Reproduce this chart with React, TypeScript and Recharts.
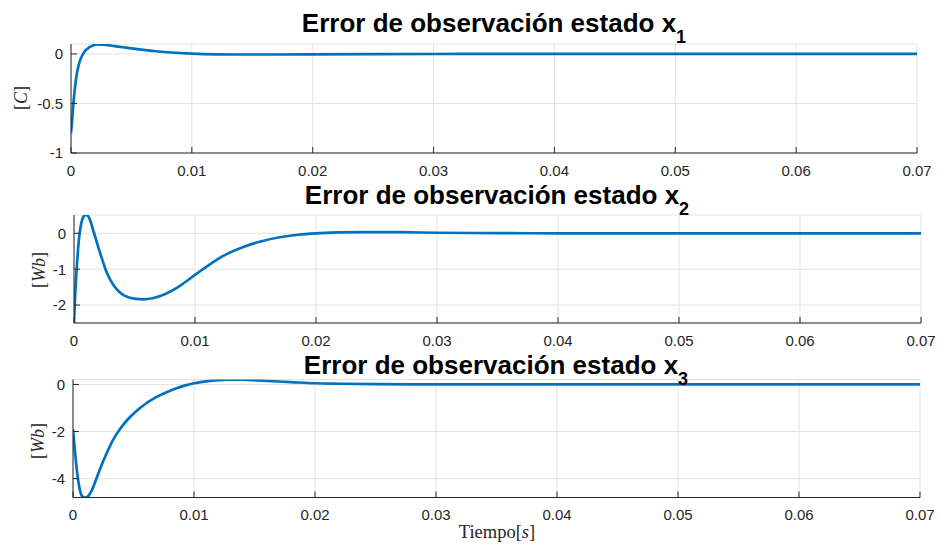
import { LineChart, Line, XAxis, YAxis, CartesianGrid } from "recharts";

const timeTicks = [0, 0.01, 0.02, 0.03, 0.04, 0.05, 0.06, 0.07];
const timeTickLabels = ["0", "0.01", "0.02", "0.03", "0.04", "0.05", "0.06", "0.07"];

// estado x1 [C]
const t1 = [
  0, 0.0001, 0.0002, 0.0003, 0.0004, 0.0005, 0.0006, 0.0008, 0.001, 0.0012, 0.0015, 0.0018,
  0.0022, 0.0026, 0.003, 0.0036, 0.0043, 0.005, 0.006, 0.007, 0.008, 0.009, 0.01, 0.012,
  0.014, 0.016, 0.02, 0.025, 0.03, 0.04, 0.05, 0.06, 0.07,
];
const e1 = [
  -0.8, -0.66, -0.5, -0.37, -0.27, -0.19, -0.13, -0.05, 0.0, 0.035, 0.065, 0.085,
  0.095, 0.094, 0.089, 0.079, 0.067, 0.055, 0.04, 0.027, 0.017, 0.009, 0.003, -0.004,
  -0.006, -0.006, -0.004, -0.002, -0.001, 0, 0, 0, 0,
];
const y1Ticks = [-1, -0.5, 0];
const y1Labels = ["-1", "-0.5", "0"];

// estado x2 [Wb]
const t2 = [
  0, 0.0001, 0.0002, 0.0003, 0.0004, 0.0005, 0.0006, 0.0007, 0.0008, 0.0009, 0.001, 0.0011,
  0.0012, 0.0014, 0.0016, 0.0018, 0.002, 0.0023, 0.0026, 0.003, 0.0035, 0.004, 0.0045, 0.005,
  0.0057, 0.0065, 0.0075, 0.0085, 0.01, 0.0112, 0.0125, 0.014, 0.0155, 0.017, 0.0185, 0.02,
  0.022, 0.024, 0.027, 0.03, 0.035, 0.04, 0.05, 0.06, 0.07,
];
const e2 = [
  -2.5, -1.7, -1.1, -0.6, -0.2, 0.08, 0.28, 0.4, 0.47, 0.5, 0.51, 0.5,
  0.46, 0.3, 0.07, -0.15, -0.38, -0.7, -1.0, -1.3, -1.55, -1.7, -1.78, -1.82,
  -1.84, -1.81, -1.7, -1.52, -1.16, -0.87, -0.6, -0.38, -0.22, -0.11, -0.04, 0.0,
  0.025, 0.035, 0.03, 0.015, 0.005, 0, 0, 0, 0,
];
const y2Ticks = [-2, -1, 0];
const y2Labels = ["-2", "-1", "0"];

// estado x3 [Wb]
const t3 = [
  0, 0.0001, 0.0002, 0.0003, 0.0004, 0.0005, 0.0006, 0.0007, 0.0008, 0.0009, 0.00105, 0.0012,
  0.0015, 0.0019, 0.0023, 0.0028, 0.0033, 0.0039, 0.0045, 0.0052, 0.006, 0.0068, 0.0076, 0.0085,
  0.0093, 0.01, 0.011, 0.012, 0.0128, 0.014, 0.016, 0.018, 0.02, 0.022, 0.025, 0.03,
  0.04, 0.05, 0.06, 0.07,
];
const e3 = [
  -1.9, -2.5, -3.05, -3.55, -3.98, -4.3, -4.55, -4.7, -4.76, -4.79, -4.8, -4.77,
  -4.55, -4.05, -3.5, -2.9, -2.36, -1.88, -1.5, -1.15, -0.82, -0.56, -0.36, -0.17,
  -0.04, 0.05, 0.13, 0.18, 0.2, 0.2, 0.15, 0.1, 0.05, 0.03, 0.01, 0,
  0, 0, 0, 0,
];
const y3Ticks = [-4, -2, 0];
const y3Labels = ["-4", "-2", "0"];

const AXIS = "#262626";
const GRID = "#e3e3e3";
const BLUE = "#0072BD";
const SANS = "'Liberation Sans', Arial, Helvetica, sans-serif";
const SERIF = "'Liberation Serif', 'Times New Roman', serif";

type PanelProps = {
  t: number[];
  v: number[];
  yDomain: [number, number];
  yTicks: number[];
  yLabels: string[];
  top: number;
  height: number;
  margin: { top: number; right: number; left: number; bottom: number };
  yWidth: number;
};

function Panel({ t, v, yDomain, yTicks, yLabels, top, height, margin, yWidth }: PanelProps) {
  const data = t.map((x, i) => ({ t: x, v: v[i] }));
  const tickStyle = { fill: AXIS, fontSize: 15, fontFamily: SANS };
  const fmtX = (x: number) => timeTickLabels[timeTicks.indexOf(x)] ?? String(x);
  const fmtY = (y: number) => yLabels[yTicks.indexOf(y)] ?? String(y);
  return (
    <div style={{ position: "absolute", left: 0, top, width: 943, height }}>
      <LineChart width={943} height={height} data={data} margin={margin}>
        <CartesianGrid stroke={GRID} strokeWidth={1} />
        <XAxis
          dataKey="t"
          type="number"
          domain={[0, 0.07]}
          ticks={timeTicks}
          tickFormatter={fmtX}
          allowDataOverflow
          height={27}
          tickSize={-6}
          tickMargin={18}
          tick={tickStyle}
          stroke={AXIS}
          tickLine={{ stroke: AXIS }}
          axisLine={{ stroke: AXIS }}
        />
        <XAxis
          xAxisId="top"
          orientation="top"
          type="number"
          domain={[0, 0.07]}
          ticks={timeTicks}
          height={0}
          tickSize={-6}
          tick={false}
          stroke={AXIS}
          tickLine={{ stroke: AXIS }}
          axisLine={{ stroke: AXIS }}
        />
        <YAxis
          type="number"
          domain={yDomain}
          ticks={yTicks}
          tickFormatter={fmtY}
          allowDataOverflow
          width={yWidth}
          tickSize={-6}
          tickMargin={14}
          tick={tickStyle}
          stroke={AXIS}
          tickLine={{ stroke: AXIS }}
          axisLine={{ stroke: AXIS }}
        />
        <YAxis
          yAxisId="right"
          orientation="right"
          type="number"
          domain={yDomain}
          ticks={yTicks}
          allowDataOverflow
          width={0}
          tickSize={-6}
          tick={false}
          stroke={AXIS}
          tickLine={{ stroke: AXIS }}
          axisLine={{ stroke: AXIS }}
        />
        <Line
          dataKey="v"
          type="monotone"
          stroke={BLUE}
          strokeWidth={2.7}
          dot={false}
          activeDot={false}
          isAnimationActive={false}
        />
      </LineChart>
    </div>
  );
}

function Title({ cx, y, sub }: { cx: number; y: number; sub: string }) {
  return (
    <text x={cx} y={y} textAnchor="middle" fontFamily={SANS} fontWeight="bold" fontSize={26} fill="#000">
      Error de observación estado x
      <tspan fontSize={18} dy={11}>
        {sub}
      </tspan>
    </text>
  );
}

function YLabel({ x, y, unit }: { x: number; y: number; unit: string }) {
  return (
    <text
      x={x}
      y={y}
      transform={`rotate(-90 ${x} ${y})`}
      textAnchor="middle"
      dominantBaseline="central"
      fontFamily={SERIF}
      fontSize={18}
      fill={AXIS}
    >
      [<tspan fontStyle="italic">{unit}</tspan>]
    </text>
  );
}

export default function App() {
  return (
    <div style={{ position: "absolute", left: 0, top: 0, width: 943, height: 549, background: "#fff" }}>
      <Panel
        t={t1}
        v={e1}
        yDomain={[-1, 0.1]}
        yTicks={y1Ticks}
        yLabels={y1Labels}
        top={0}
        height={180}
        margin={{ top: 44, right: 26, left: 0, bottom: 0 }}
        yWidth={71}
      />
      <Panel
        t={t2}
        v={e2}
        yDomain={[-2.5, 0.51]}
        yTicks={y2Ticks}
        yLabels={y2Labels}
        top={180}
        height={170}
        margin={{ top: 35, right: 22, left: 0, bottom: 0 }}
        yWidth={74}
      />
      <Panel
        t={t3}
        v={e3}
        yDomain={[-4.8, 0.21]}
        yTicks={y3Ticks}
        yLabels={y3Labels}
        top={350}
        height={199}
        margin={{ top: 29.5, right: 23, left: 0, bottom: 24.5 }}
        yWidth={73}
      />
      <svg
        width={943}
        height={549}
        style={{ position: "absolute", left: 0, top: 0, pointerEvents: "none" }}
      >
        <Title cx={494} y={32} sub="1" />
        <Title cx={497} y={204} sub="2" />
        <Title cx={496} y={374} sub="3" />
        <YLabel x={21} y={98} unit="C" />
        <YLabel x={39} y={270} unit="Wb" />
        <YLabel x={38} y={441} unit="Wb" />
        <text x={497} y={538} textAnchor="middle" fontFamily={SERIF} fontSize={18.5} fill={AXIS}>
          Tiempo[<tspan fontStyle="italic">s</tspan>]
        </text>
      </svg>
    </div>
  );
}
